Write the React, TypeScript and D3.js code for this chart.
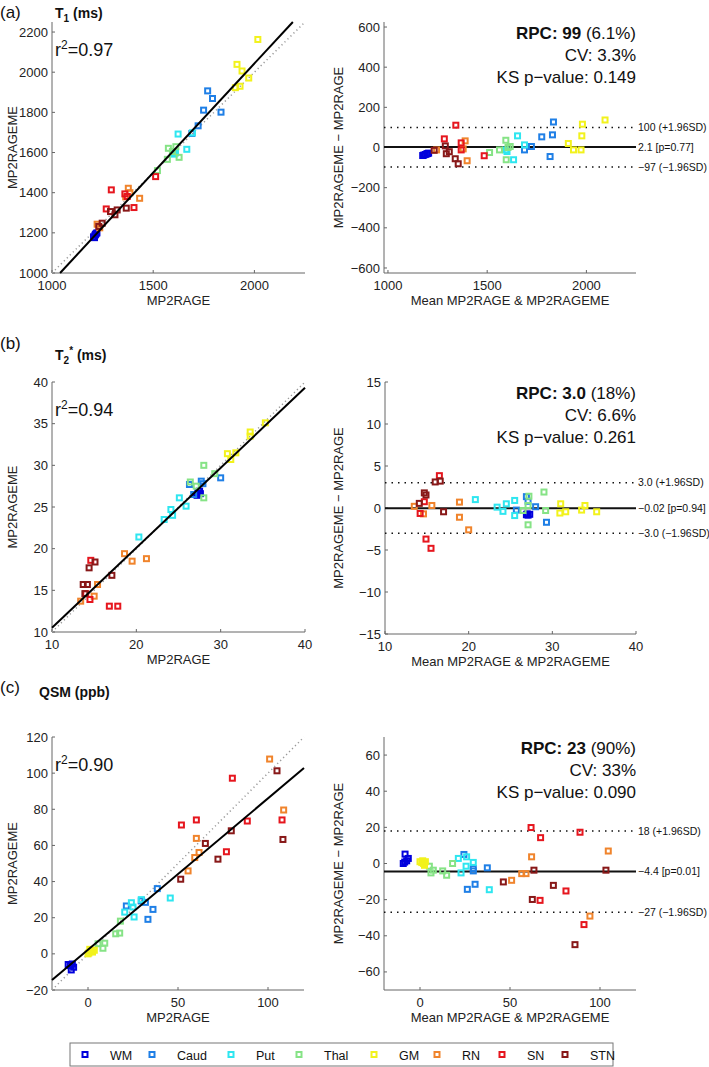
import React from "react";
import * as d3 from "d3";

type Pt = [number, number];

// regions (legend order) and their colours
const regions = ["WM", "Caud", "Put", "Thal", "GM", "RN", "SN", "STN"];
const regionColors = ["#0000dc", "#1f7fe6", "#2ee6f0", "#86e386", "#f2f21c", "#f0842c", "#e6161e", "#881818"];

// T1 (ms): MP2RAGE vs MP2RAGEME, one list per region
const t1Scatter: Pt[][] = [
  [[1205, 1180], [1212, 1188], [1218, 1196], [1210, 1176], [1215, 1192], [1222, 1200]],
  [[1769, 1907], [1793, 1869], [1749, 1811], [1835, 1801], [1722, 1733], [1691, 1695]],
  [[1623, 1692], [1666, 1616], [1603, 1592], [1694, 1698], [1610, 1598]],
  [[1575, 1621], [1612, 1629], [1570, 1566], [1628, 1576], [1521, 1510], [1595, 1605]],
  [[2017, 2163], [1914, 2039], [1939, 2006], [1972, 1971], [1929, 1930], [1906, 1923]],
  [[1377, 1422], [1433, 1372], [1364, 1379], [1223, 1243], [1385, 1400], [1236, 1225]],
  [[1293, 1414], [1360, 1394], [1512, 1480], [1268, 1319], [1405, 1326], [1372, 1381]],
  [[1289, 1306], [1311, 1290], [1322, 1314], [1367, 1323], [1248, 1248], [1231, 1232]],
];
// T1 Bland-Altman: mean, difference
const t1Bland: Pt[][] = [
  [[1180, -38], [1188, -35], [1195, -32], [1175, -40], [1200, -30], [1205, -28]],
  [[1834, 127], [1829, 63], [1775, 53], [1723, 5], [1688, -12], [1817, -45]],
  [[1653, 58], [1688, 13], [1633, -61], [1594, -12], [1600, -20]],
  [[1594, 36], [1616, 5], [1562, -12], [1512, -25], [1596, -61], [1605, 0]],
  [[2094, 137], [1980, 116], [1977, 58], [1909, 20], [1935, -12], [1973, -12]],
  [[1389, 33], [1379, -7], [1399, -66], [1245, -12]],
  [[1342, 111], [1284, 43], [1369, 23], [1369, -12], [1485, -41]],
  [[1289, 8], [1294, -31], [1309, -21], [1339, -56], [1354, -81], [1233, -14]],
];

// T2* (ms)
const t2Scatter: Pt[][] = [
  [[27.3, 26.7], [27.0, 26.5], [27.5, 26.9], [27.2, 26.4], [27.6, 26.6]],
  [[30.0, 28.5], [27.7, 28.1], [26.3, 27.7], [26.8, 26.5], [27.9, 27.8]],
  [[25.1, 26.1], [25.9, 25.1], [24.1, 24.7], [24.3, 24.0], [23.3, 23.5], [20.3, 21.4]],
  [[28.0, 30.0], [29.3, 29.0], [26.4, 28.0], [28.0, 26.1], [27.1, 27.5]],
  [[35.3, 35.1], [33.5, 34.0], [33.5, 33.5], [31.8, 31.5], [30.8, 31.4], [31.2, 30.7]],
  [[18.6, 19.4], [19.5, 18.5], [21.2, 18.8], [15.4, 15.7], [15.0, 14.3], [13.4, 13.7]],
  [[14.6, 18.6], [16.8, 13.1], [17.8, 13.1], [14.5, 13.9], [14.0, 14.6]],
  [[15.1, 18.4], [14.4, 17.7], [13.7, 15.7], [14.2, 15.7], [17.1, 16.8], [13.9, 14.6]],
];
const t2Bland: Pt[][] = [
  [[26.9, -0.8], [27.1, -0.85], [27.3, -0.75], [27.0, -0.7]],
  [[26.9, 1.35], [27.1, 0.8], [28.0, 0.15], [25.7, -0.25], [29.3, -1.7]],
  [[20.8, 1.0], [23.4, 0.1], [24.1, -0.4], [24.5, 0.5], [25.5, 0.9], [25.5, -0.9]],
  [[27.2, 1.4], [29.0, 1.9], [29.2, -0.3], [27.1, -2.0], [26.5, -0.3], [27.1, 0.3]],
  [[31.0, 0.5], [30.9, -0.6], [31.6, -0.45], [33.5, -0.25], [33.9, 0.3], [35.3, -0.45]],
  [[13.5, 0.2], [14.6, -0.7], [15.6, 0.3], [18.9, 0.7], [18.9, -1.1], [20.0, -2.6]],
  [[16.5, 3.85], [14.9, -3.7], [15.5, -4.8], [14.2, -0.65], [14.7, 0.75]],
  [[16.0, 3.1], [16.6, 3.2], [14.7, 1.8], [14.9, 1.55], [14.1, 0.55], [17.0, -0.45]],
];

// QSM (ppb)
const qsmScatter: Pt[][] = [
  [[-11, -5.9], [-8.7, -5.6], [-9.3, -8.9], [-8, -7.4], [-9.8, -6.5]],
  [[38.5, 36.1], [36.1, 24.6], [33.3, 19.1], [31.9, 28.5], [21.3, 26.5], [29.6, 29.3]],
  [[45.7, 30.9], [29.6, 30.0], [24.1, 28.3], [20.4, 23.1], [25.6, 20.4], [25, 25.9]],
  [[18, 18.1], [15.4, 11.1], [17.6, 11.5], [9.3, 5.9], [8.3, 3.1], [5.6, 5.6]],
  [[0.5, 0.5], [1.5, 1.5], [2.5, 1], [3.5, 2], [1, 2.5], [0, 0]],
  [[100.9, 107.8], [108.7, 79.6], [60.2, 63.9], [61.7, 56.1], [59.3, 53.3], [55.6, 45.9]],
  [[80.2, 97.2], [51.9, 71.3], [60.2, 74.1], [107.8, 74.1], [88.5, 73.5], [76.9, 56.5]],
  [[105, 101.3], [108.3, 63.3], [79.6, 68.1], [65.2, 61.1], [72.2, 52.4], [51.5, 41.3]],
];
const qsmBland: Pt[][] = [
  [[-8.3, 5.2], [-6.5, 2.8], [-7.4, 1.5], [-9.3, 0], [-8.5, 0.8]],
  [[24.4, 5.0], [29.6, -2.8], [29.6, -4.1], [26.3, -14.3], [30.6, -11.5], [37.4, -2.4]],
  [[21.3, 2.8], [25.9, 3.7], [25.6, -1.5], [22.8, -5.2], [29.6, 0.6], [38.5, -14.5]],
  [[5.2, -1.5], [7.4, -3.7], [6.1, -5.2], [12.6, -4.1], [14.8, -6.5], [18.1, 0]],
  [[0, 1], [1, 0.5], [2, 0], [3, 1], [2.5, -1], [1.5, 1.5]],
  [[62, 3.7], [50.9, -9.3], [56.5, -5.6], [58.9, -5.6], [104.6, 6.9], [94.4, -29.1]],
  [[61.7, 19.9], [67, 14.3], [88.9, 17.3], [81.1, -15.2], [66.7, -20.4], [91.1, -33.8]],
  [[46.3, -10.2], [63.3, -3.7], [74.1, -12.1], [62.4, -19.9], [86.1, -44.9], [103.3, -3.7]],
];

// fitted regression lines (end points) and r²
const t1Fit: Pt[] = [[1040, 1000], [2190, 2250]];
const t2Fit: Pt[] = [[10, 10.5], [40, 39.3]];
const qsmFit: Pt[] = [[-20, -14.5], [120, 102.8]];
const r2Values = ["0.97", "0.94", "0.90"];

// Bland-Altman limits: [upper, mean, lower] + labels
const t1Limits = [100, 2.1, -97];
const t2Limits = [3.0, -0.02, -3.0];
const qsmLimits = [18, -4.4, -27];
const t1LimitLabels = ["100 (+1.96SD)", "2.1 [p=0.77]", "\u221297 (\u22121.96SD)"];
const t2LimitLabels = ["3.0 (+1.96SD)", "\u22120.02 [p=0.94]", "\u22123.0 (\u22121.96SD)"];
const qsmLimitLabels = ["18 (+1.96SD)", "\u22124.4 [p=0.01]", "\u221227 (\u22121.96SD)"];

// RPC, RPC %, CV, KS p
const t1Stats = ["99", "(6.1%)", "3.3%", "0.149"];
const t2Stats = ["3.0", "(18%)", "6.6%", "0.261"];
const qsmStats = ["23", "(90%)", "33%", "0.090"];

const FONT = "'Liberation Sans', Arial, Helvetica, sans-serif";
const AXIS = "#666";

type Box = { left: number; right: number; top: number; bottom: number };

const fmt = (v: number) => (v < 0 ? "\u2212" + Math.abs(v) : String(v));

function Axes({ box, x, y, xTicks, yTicks, xLabel, yLabel, yLabelX }: {
  box: Box;
  x: d3.ScaleLinear<number, number>;
  y: d3.ScaleLinear<number, number>;
  xTicks: number[];
  yTicks: number[];
  xLabel: string;
  yLabel: string;
  yLabelX: number;
}) {
  const midY = (box.top + box.bottom) / 2;
  return (
    <g fontFamily={FONT} fontSize={13}>
      <line x1={box.left} x2={box.left} y1={box.top} y2={box.bottom} stroke={AXIS} strokeWidth={1} />
      <line x1={box.left} x2={box.right} y1={box.bottom} y2={box.bottom} stroke={AXIS} strokeWidth={1} />
      {xTicks.map((t) => (
        <g key={"x" + t}>
          <line x1={x(t)} x2={x(t)} y1={box.bottom} y2={box.bottom - 3} stroke={AXIS} />
          <text x={x(t)} y={box.bottom + 17} textAnchor="middle" fill="#222">{fmt(t)}</text>
        </g>
      ))}
      {yTicks.map((t) => (
        <g key={"y" + t}>
          <line x1={box.left} x2={box.left + 3} y1={y(t)} y2={y(t)} stroke={AXIS} />
          <text x={box.left - 4} y={y(t)} dy="0.35em" textAnchor="end" fill="#222">{fmt(t)}</text>
        </g>
      ))}
      <text x={(box.left + box.right) / 2} y={box.bottom + 32} textAnchor="middle" fill="#222">{xLabel}</text>
      <text transform={`translate(${yLabelX},${midY}) rotate(-90)`} dy="0.35em" textAnchor="middle" fill="#222">{yLabel}</text>
    </g>
  );
}

function Markers({ data, x, y }: { data: Pt[][]; x: d3.ScaleLinear<number, number>; y: d3.ScaleLinear<number, number> }) {
  return (
    <g>
      {data.map((pts, i) =>
        pts.map((p, j) => (
          <rect key={i + "-" + j} x={x(p[0]) - 2.5} y={y(p[1]) - 2.5} width={5} height={5}
            fill="none" stroke={regionColors[i]} strokeWidth={2} />
        ))
      )}
    </g>
  );
}

function ScatterPanel({ box, xDom, yDom, xTicks, yTicks, data, fit, r2 }: {
  box: Box; xDom: Pt; yDom: Pt; xTicks: number[]; yTicks: number[]; data: Pt[][]; fit: Pt[]; r2: string;
}) {
  const x = d3.scaleLinear().domain(xDom).range([box.left, box.right]);
  const y = d3.scaleLinear().domain(yDom).range([box.bottom, box.top]);
  const lo = Math.max(xDom[0], yDom[0]);
  const hi = Math.min(xDom[1], yDom[1]);
  const line = d3.line<Pt>().x((d) => x(d[0])).y((d) => y(d[1]));
  return (
    <g>
      <Axes box={box} x={x} y={y} xTicks={xTicks} yTicks={yTicks} xLabel="MP2RAGE" yLabel="MP2RAGEME" yLabelX={12} />
      <path d={line([[lo, lo], [hi, hi]]) ?? ""} stroke="#999" strokeWidth={1.5} strokeDasharray="1.2,3" fill="none" />
      <Markers data={data} x={x} y={y} />
      <path d={line(fit) ?? ""} stroke="#000" strokeWidth={2} fill="none" />
      <text x={box.left + 3} y={box.top + 34} fontFamily={FONT} fontSize={18} fill="#111">
        r<tspan dy={-7} fontSize={12}>2</tspan><tspan dy={7}>={r2}</tspan>
      </text>
    </g>
  );
}

function BlandPanel({ box, xDom, yDom, xTicks, yTicks, data, limits, labels, stats }: {
  box: Box; xDom: Pt; yDom: Pt; xTicks: number[]; yTicks: number[]; data: Pt[][];
  limits: number[]; labels: string[]; stats: string[];
}) {
  const x = d3.scaleLinear().domain(xDom).range([box.left, box.right]);
  const y = d3.scaleLinear().domain(yDom).range([box.bottom, box.top]);
  return (
    <g>
      <Axes box={box} x={x} y={y} xTicks={xTicks} yTicks={yTicks}
        xLabel="Mean MP2RAGE & MP2RAGEME" yLabel={"MP2RAGEME \u2212 MP2RAGE"} yLabelX={338} />
      {limits.map((v, i) => (
        <line key={i} x1={box.left} x2={box.right} y1={y(v)} y2={y(v)} stroke="#111"
          strokeWidth={i === 1 ? 2 : 1.5} strokeDasharray={i === 1 ? undefined : "1.5,5"} />
      ))}
      <Markers data={data} x={x} y={y} />
      {limits.map((v, i) => (
        <text key={"l" + i} x={box.right + 2} y={y(v)} dy="0.35em" fontFamily={FONT} fontSize={10.5} fill="#111">
          {labels[i]}
        </text>
      ))}
      <g fontFamily={FONT} fontSize={17} fill="#111" textAnchor="end">
        <text x={box.right} y={box.top + 17}>
          <tspan fontWeight="bold">RPC: {stats[0]}</tspan> {stats[1]}
        </text>
        <text x={box.right} y={box.top + 39}>CV: {stats[2]}</text>
        <text x={box.right} y={box.top + 61}>KS p{"\u2212"}value: {stats[3]}</text>
      </g>
    </g>
  );
}

// legend layout (marker x positions)
const legendMarkerX = [85, 152, 231, 299, 374, 437, 502, 565];

export default function App() {
  const boxA1 = { left: 52, right: 305, top: 22, bottom: 273 };
  const boxA2 = { left: 384, right: 636, top: 22, bottom: 273 };
  const boxB1 = { left: 52, right: 305, top: 382, bottom: 632 };
  const boxB2 = { left: 385, right: 636, top: 382, bottom: 634 };
  const boxC1 = { left: 52, right: 304, top: 737, bottom: 990 };
  const boxC2 = { left: 384, right: 636, top: 737, bottom: 990 };

  return (
    <svg width={709} height={1067} style={{ position: "absolute", left: 0, top: 0, background: "#fff" }}>
      <rect width={709} height={1067} fill="#fff" />
      {/* panel titles */}
      <g fontFamily={FONT} fill="#111">
        <text x={0} y={18} fontSize={17}>(a)</text>
        <text x={55} y={18} fontSize={14} fontWeight="bold">
          T<tspan dy={4} fontSize={10}>1</tspan><tspan dy={-4}> (ms)</tspan>
        </text>
        <text x={0} y={349} fontSize={17}>(b)</text>
        <text x={55} y={360} fontSize={14} fontWeight="bold">
          T<tspan dy={4} fontSize={10}>2</tspan><tspan dy={-10} fontSize={10}>*</tspan><tspan dy={6}> (ms)</tspan>
        </text>
        <text x={0} y={693} fontSize={17}>(c)</text>
        <text x={39} y={697} fontSize={14} fontWeight="bold">QSM (ppb)</text>
      </g>

      <ScatterPanel box={boxA1} xDom={[1000, 2250]} yDom={[1000, 2250]} xTicks={[1000, 1500, 2000]}
        yTicks={[1000, 1200, 1400, 1600, 1800, 2000, 2200]} data={t1Scatter} fit={t1Fit} r2={r2Values[0]} />
      <BlandPanel box={boxA2} xDom={[980, 2250]} yDom={[-625, 625]} xTicks={[1000, 1500, 2000]}
        yTicks={[-600, -400, -200, 0, 200, 400, 600]} data={t1Bland} limits={t1Limits} labels={t1LimitLabels} stats={t1Stats} />

      <ScatterPanel box={boxB1} xDom={[10, 40]} yDom={[10, 40]} xTicks={[10, 20, 30, 40]}
        yTicks={[10, 15, 20, 25, 30, 35, 40]} data={t2Scatter} fit={t2Fit} r2={r2Values[1]} />
      <BlandPanel box={boxB2} xDom={[10, 40]} yDom={[-15, 15]} xTicks={[10, 20, 30, 40]}
        yTicks={[-15, -10, -5, 0, 5, 10, 15]} data={t2Bland} limits={t2Limits} labels={t2LimitLabels} stats={t2Stats} />

      <ScatterPanel box={boxC1} xDom={[-20, 120]} yDom={[-20, 120]} xTicks={[0, 50, 100]}
        yTicks={[-20, 0, 20, 40, 60, 80, 100, 120]} data={qsmScatter} fit={qsmFit} r2={r2Values[2]} />
      <BlandPanel box={boxC2} xDom={[-20, 120]} yDom={[-70, 70]} xTicks={[0, 50, 100]}
        yTicks={[-60, -40, -20, 0, 20, 40, 60]} data={qsmBland} limits={qsmLimits} labels={qsmLimitLabels} stats={qsmStats} />

      {/* legend */}
      <g fontFamily={FONT} fontSize={12.5} fill="#111">
        <rect x={70} y={1043} width={543} height={23} fill="#fff" stroke="#777" strokeWidth={1} />
        {regions.map((r, i) => (
          <g key={r}>
            <rect x={legendMarkerX[i] - 2.5} y={1052} width={5} height={5} fill="none" stroke={regionColors[i]} strokeWidth={2} />
            <text x={legendMarkerX[i] + 25} y={1059.5}>{r}</text>
          </g>
        ))}
      </g>
    </svg>
  );
}
